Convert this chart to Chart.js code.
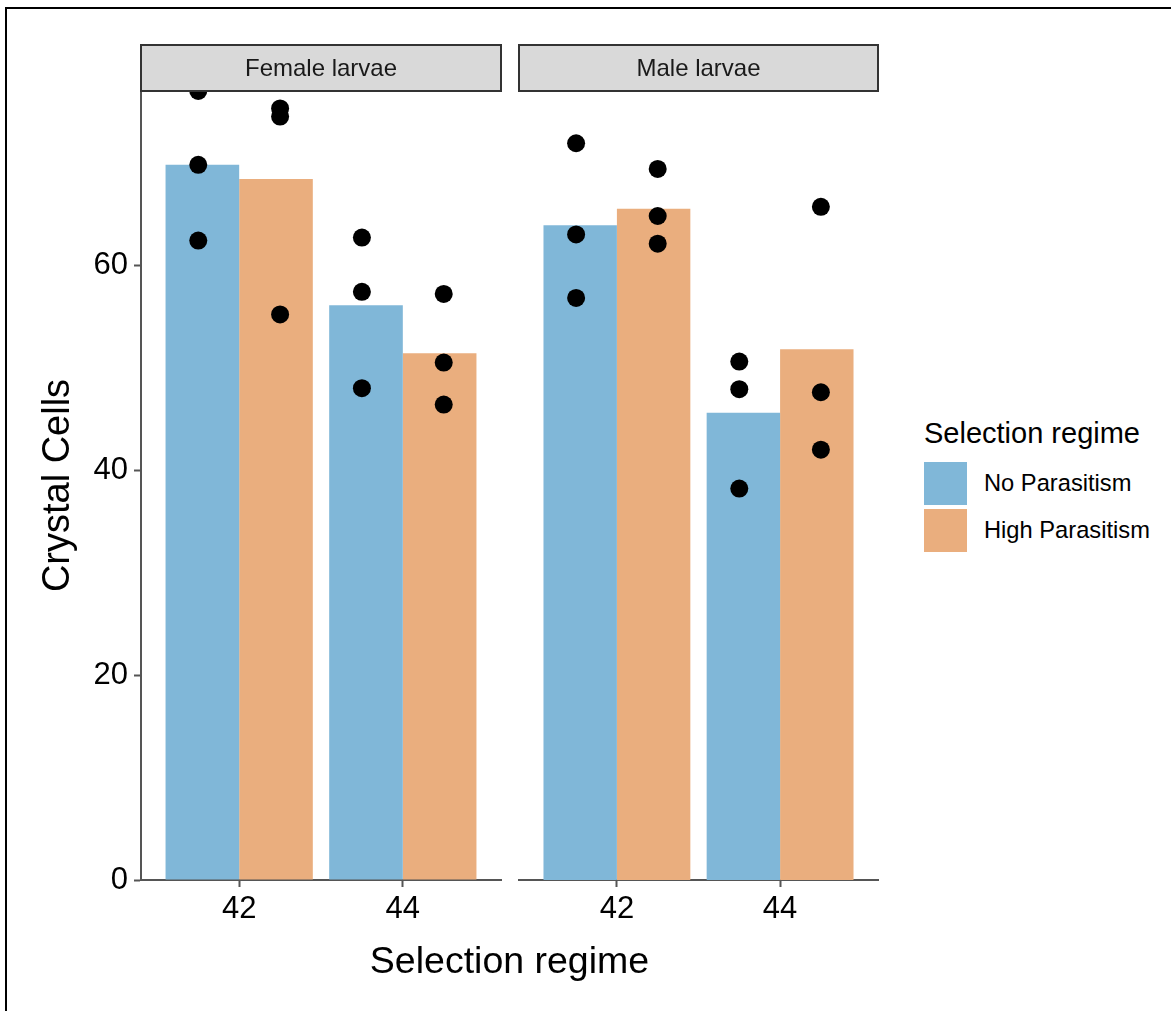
<!DOCTYPE html>
<html>
<head>
<meta charset="utf-8">
<script src="https://cdn.jsdelivr.net/npm/chart.js@4.4.1/dist/chart.umd.min.js"></script>
<style>
  html, body { margin: 0; padding: 0; background: #fff; }
  body { width: 1171px; height: 1011px; position: relative; overflow: hidden; font-family: "Liberation Sans", Arial, sans-serif; }
  .frame { position: absolute; left: 5px; top: 7px; right: -10px; bottom: -10px; border-top: 2px solid #000; border-left: 2px solid #000; }
  canvas { position: absolute; top: 0; }
  #xtitle { position: absolute; left: 141px; width: 737px; top: 937px; text-align: center; font-size: 37.5px; color: #000; line-height: 46px; }
  #legend { position: absolute; left: 924px; top: 415px; color: #000; }
  #legend .title { font-size: 29px; line-height: 36px; margin-bottom: 11px; }
  #legend .item { display: flex; align-items: center; height: 43px; margin-bottom: 4px; }
  #legend .key { width: 43px; height: 43px; margin-right: 17px; }
  #legend .label { font-size: 23.7px; }
</style>
</head>
<body>
<div class="frame"></div>
<canvas id="female" width="510" height="1011" style="left:0px"></canvas>
<canvas id="male" width="400" height="1011" style="left:510px"></canvas>
<div id="xtitle">Selection regime</div>
<div id="legend"></div>
<script>
// Generation groups on the x axis and the two facet panels
const groups = ['42', '44'];
const panels = ['Female larvae', 'Male larvae'];
const series = ['No Parasitism', 'High Parasitism'];
const seriesColors = ['#80B7D8', '#EAAE7E'];

// Mean crystal cell counts (bar heights), one value per group
const femaleNoPara = [69.8, 56.1];
const femaleHighPara = [68.4, 51.4];
const maleNoPara = [63.9, 45.6];
const maleHighPara = [65.5, 51.8];

// Replicate line values, one list per group
const femaleNoParaPts = [[77.0, 69.8, 62.4], [62.7, 57.4, 48.0]];
const femaleHighParaPts = [[75.3, 74.5, 55.2], [57.2, 50.5, 46.4]];
const maleNoParaPts = [[71.9, 63.0, 56.8], [50.6, 47.9, 38.2]];
const maleHighParaPts = [[69.4, 64.8, 62.1], [65.7, 47.6, 42.0]];

// Axis settings
const yTicks = [0, 20, 40, 60];
const yMax = 77.0;
const pointDodge = 0.25;

const FONT = '"Liberation Sans", Arial, sans-serif';
const AXIS_COLOR = '#555555';

// Grey facet strip above each panel
const stripPlugin = {
  id: 'facetStrip',
  afterDraw(chart, args, opts) {
    const { ctx, chartArea } = chart;
    const h = 46;
    const x = chartArea.left, y = chartArea.top - h, w = chartArea.right - chartArea.left;
    ctx.save();
    ctx.fillStyle = '#D9D9D9';
    ctx.fillRect(x, y, w, h);
    ctx.strokeStyle = '#333333';
    ctx.lineWidth = 2;
    ctx.strokeRect(x, y, w, h);
    ctx.fillStyle = '#1A1A1A';
    ctx.font = '24px ' + FONT;
    ctx.textAlign = 'center';
    ctx.textBaseline = 'middle';
    ctx.fillText(opts.text, x + w / 2, y + h / 2 + 1);
    ctx.restore();
  }
};

function pointData(lists, sign) {
  const out = [];
  lists.forEach((vals, g) => {
    vals.forEach(v => out.push({ x: g + 1 + sign * pointDodge, y: v }));
  });
  return out;
}

function makePanel(id, title, noBars, highBars, noPts, highPts, showY, padding) {
  const barData = vals => vals.map((v, g) => ({ x: g + 1, y: v }));
  return new Chart(document.getElementById(id), {
    type: 'bar',
    data: {
      datasets: [
        { type: 'scatter', label: 'pts-no', data: pointData(noPts, -1), backgroundColor: '#000', borderWidth: 0, pointRadius: 9, pointHoverRadius: 9, clip: 0, order: 0 },
        { type: 'scatter', label: 'pts-high', data: pointData(highPts, 1), backgroundColor: '#000', borderWidth: 0, pointRadius: 9, pointHoverRadius: 9, clip: 0, order: 0 },
        { label: series[0], data: barData(noBars), backgroundColor: seriesColors[0], borderWidth: 0, categoryPercentage: 0.9, barPercentage: 1, order: 1 },
        { label: series[1], data: barData(highBars), backgroundColor: seriesColors[1], borderWidth: 0, categoryPercentage: 0.9, barPercentage: 1, order: 1 }
      ]
    },
    options: {
      responsive: false,
      animation: false,
      devicePixelRatio: 1,
      layout: { padding: padding },
      plugins: {
        legend: { display: false },
        tooltip: { enabled: false },
        facetStrip: { text: title }
      },
      scales: {
        x: {
          type: 'linear',
          min: 0.4,
          max: 2.6,
          offset: false,
          afterFit: s => { s.height = 131; },
          afterBuildTicks: s => { s.ticks = groups.map((g, i) => ({ value: i + 1 })); },
          grid: { offset: false, drawOnChartArea: false, drawTicks: true, tickLength: 7, tickColor: AXIS_COLOR, tickWidth: 2 },
          border: { display: true, color: AXIS_COLOR, width: 2 },
          ticks: {
            autoSkip: false,
            maxRotation: 0,
            padding: 4,
            color: '#000',
            font: { family: FONT, size: 31 },
            callback: v => groups[Math.round(v) - 1]
          }
        },
        y: {
          display: showY,
          min: 0,
          max: yMax,
          afterFit: s => { if (showY) s.width = 141; },
          afterBuildTicks: s => { s.ticks = yTicks.map(v => ({ value: v })); },
          grid: { drawOnChartArea: false, drawTicks: true, tickLength: 7, tickColor: AXIS_COLOR, tickWidth: 2 },
          border: { display: true, color: AXIS_COLOR, width: 2 },
          ticks: { padding: 6, color: '#000', font: { family: FONT, size: 31 } },
          title: { display: true, text: 'Crystal Cells', color: '#000', font: { family: FONT, size: 38 }, padding: { top: 36, bottom: 0 } }
        }
      }
    },
    plugins: [stripPlugin]
  });
}

makePanel('female', panels[0], femaleNoPara, femaleHighPara, femaleNoParaPts, femaleHighParaPts, true,
  { left: 0, right: 9, top: 91, bottom: 0 });
makePanel('male', panels[1], maleNoPara, maleHighPara, maleNoParaPts, maleHighParaPts, false,
  { left: 8, right: 32, top: 91, bottom: 0 });

// Legend for the fill colours
const legend = document.getElementById('legend');
legend.innerHTML = '<div class="title">Selection regime</div>' +
  series.map((s, i) => '<div class="item"><div class="key" style="background:' + seriesColors[i] +
    '"></div><div class="label">' + s + '</div></div>').join('');
</script>
</body>
</html>
